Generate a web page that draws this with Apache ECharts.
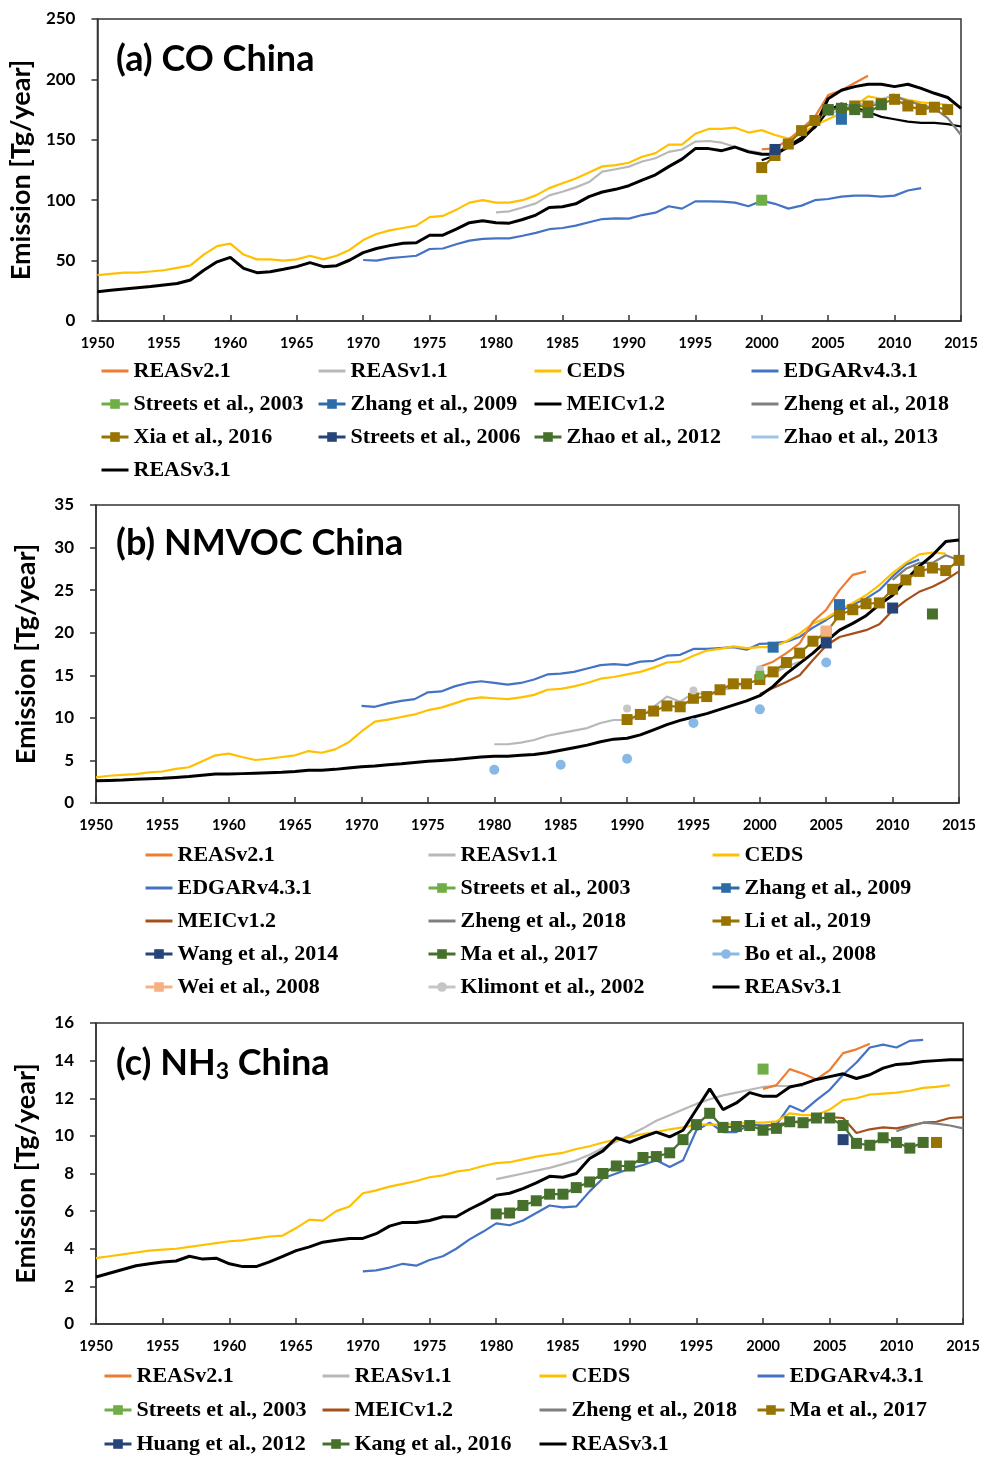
<!DOCTYPE html>
<html>
<head>
<meta charset="utf-8">
<script src="https://cdn.jsdelivr.net/npm/echarts@6/dist/echarts.min.js"></script>
<style>
  html, body { margin: 0; padding: 0; background: #ffffff; }
  #chart { width: 983px; height: 1457px; }
</style>
</head>
<body>
<div id="chart"></div>
<script>
// ---------------- (a) CO China, Tg/year ----------------
const coCEDS = [38, 39, 40, 40, 41, 42, 44, 46, 55, 62,
  64, 55, 51, 51, 50, 51, 54, 51, 54, 59,
  67, 72, 75, 77, 79, 86, 87, 92, 98, 100,
  98, 98, 100, 104, 110, 114, 118, 123, 128, 129,
  131, 136, 139, 146, 146, 155, 159, 159, 160, 156,
  158, 154, 151, 155, 162, 167, 172, 178, 186, 184,
  186, 183, 181, 180, 179];                                  // 1950-2014
const coREAS31 = [24.3, 25.5, 26.5, 27.5, 28.5, 29.8, 31, 34, 42, 49,
  52.7, 43.6, 40, 40.8, 42.8, 45, 48.3, 45, 45.8, 50.5,
  56.6, 60, 62.4, 64.3, 64.8, 71, 71, 76, 81.4, 83,
  81.4, 81, 84, 87.7, 94, 94.6, 97, 103, 106.8, 109,
  112, 116.7, 121, 127.8, 134, 142.7, 142.7, 141, 144, 140,
  138, 138, 144, 150, 161, 184, 191, 194, 196, 196,
  194, 196, 192.6, 188.5, 185, 176];                         // 1950-2015
const coEDGAR = [50.5, 50, 52, 53, 54, 59.6, 60, 63.5, 66.5, 68,
  68.4, 68.4, 70.6, 73, 76, 77, 79, 81.7, 84.4, 85,
  84.7, 87.7, 89.7, 95, 93, 99, 99, 98.8, 98, 95,
  99.6, 97, 93, 95.5, 100, 101, 103, 103.8, 103.8, 103,
  103.8, 108, 110];                                          // 1970-2012
const coREAS11 = [90, 90.8, 94, 97.4, 104, 107, 110.6, 115, 123.6, 125.6,
  127.8, 132, 134.7, 140, 142, 148.5, 149, 147.6, 144, 141, 139]; // 1980-2000
const coREAS21 = [142, 143, 150, 159, 169, 187, 191, 197, 203];   // 2000-2008
const coMEIC = [133, 137, 145, 152, 160, 174, 180, 177, 173, 169,
  167, 165, 164, 164, 163, 161];                             // 2000-2015
const coXia = [127, 137, 146.5, 157.6, 166, 174.7, 176, 178, 178, 180,
  183.5, 178, 175, 177, 175];                                // 2000-2014
const coZhao2012 = [175, 176, 175, 172.5, 179];              // 2005-2009
const coZhao2013 = [170, 176, 181, 178, 183, 188];           // 2005-2010
const coZheng = [186, 182, 179, 176, 168, 154];              // 2010-2015
const coStreets2003Years = [2000], coStreets2003 = [100];
const coStreets2006Years = [2001], coStreets2006 = [142];
const coZhang2009Years = [2006], coZhang2009 = [167];

// ---------------- (b) NMVOC China, Tg/year ----------------
const vocCEDS = [3.0, 3.2, 3.3, 3.4, 3.6, 3.7, 4.0, 4.2, 4.9, 5.6,
  5.8, 5.4, 5.05, 5.2, 5.4, 5.6, 6.1, 5.9, 6.3, 7.1,
  8.4, 9.55, 9.8, 10.1, 10.4, 10.9, 11.2, 11.7, 12.2, 12.4,
  12.3, 12.2, 12.4, 12.7, 13.3, 13.4, 13.7, 14.1, 14.6, 14.8,
  15.1, 15.4, 15.9, 16.5, 16.6, 17.3, 17.9, 18.1, 18.4, 18.2,
  18.3, 18.3, 19.0, 19.9, 21.1, 21.7, 22.7, 23.5, 24.4, 25.6,
  27.0, 28.2, 29.2, 29.4, 29.3];                             // 1950-2014
const vocREAS31 = [2.6, 2.65, 2.7, 2.8, 2.85, 2.9, 3.0, 3.1, 3.25, 3.4,
  3.4, 3.45, 3.5, 3.55, 3.6, 3.7, 3.85, 3.85, 3.95, 4.1,
  4.25, 4.35, 4.5, 4.6, 4.75, 4.9, 5.0, 5.1, 5.25, 5.4,
  5.5, 5.5, 5.6, 5.7, 5.9, 6.2, 6.5, 6.8, 7.2, 7.5,
  7.6, 8.0, 8.6, 9.2, 9.7, 10.1, 10.5, 11.0, 11.5, 12.0,
  12.6, 13.7, 15.2, 16.4, 17.6, 19.0, 20.3, 21.1, 22.0, 23.3,
  24.4, 26.2, 27.8, 29.1, 30.7, 30.9];                       // 1950-2015
const vocEDGAR = [11.4, 11.3, 11.7, 12.0, 12.2, 13.0, 13.1, 13.7, 14.1, 14.3,
  14.1, 13.9, 14.1, 14.5, 15.1, 15.2, 15.4, 15.8, 16.2, 16.3,
  16.2, 16.6, 16.7, 17.3, 17.4, 18.1, 18.1, 18.2, 18.3, 18.0,
  18.7, 18.75, 18.95, 19.5, 20.6, 21.5, 22.5, 23.3, 24.0, 25.0,
  26.6, 28.0, 28.6];                                         // 1970-2012
const vocREAS11 = [6.9, 6.9, 7.1, 7.4, 7.9, 8.2, 8.5, 8.8, 9.4, 9.75,
  9.75, 10.1, 11.3, 12.5, 11.9, 12.9, 12.8, 13.2, 13.6, 14.0,
  14.5, 15.2, 16.0, 16.6];                                   // 1980-2003
const vocREAS21 = [16.0, 16.6, 17.6, 18.75, 21.3, 22.7, 25.0, 26.8, 27.2]; // 2000-2008
const vocMEIC = [12.8, 13.5, 14.2, 15.0, 16.8, 18.5, 19.5, 19.9, 20.3, 21.0,
  22.6, 23.8, 24.8, 25.4, 26.2, 27.2];                       // 2000-2015
const vocZheng = [26.2, 27.5, 28.2, 28.2, 29.1, 28.5];       // 2010-2015
const vocLi = [9.8, 10.4, 10.8, 11.4, 11.3, 12.3, 12.5, 13.3, 14.0, 14.0,
  14.5, 15.4, 16.5, 17.6, 19.0, 20.0, 22.1, 22.7, 23.4, 23.5,
  25.1, 26.2, 27.2, 27.6, 27.3, 28.5];                       // 1990-2015
const vocStreets2003Years = [2000], vocStreets2003 = [15.0];
const vocZhang2009Years = [2001, 2006], vocZhang2009 = [18.3, 23.3];
const vocWang2014Years = [2005, 2010], vocWang2014 = [18.8, 22.9];
const vocMa2017Years = [2013], vocMa2017 = [22.2];
const vocBoYears = [1980, 1985, 1990, 1995, 2000, 2005], vocBo = [3.9, 4.5, 5.2, 9.4, 11.0, 16.5];
const vocWeiYears = [2005], vocWei = [20.2];
const vocKlimontYears = [1990, 1995, 2000], vocKlimont = [11.1, 13.2, 15.7];

// ---------------- (c) NH3 China, Tg/year ----------------
const nh3CEDS = [3.5, 3.6, 3.7, 3.8, 3.9, 3.95, 4.0, 4.1, 4.2, 4.3,
  4.4, 4.45, 4.55, 4.65, 4.7, 5.1, 5.55, 5.5, 6.0, 6.25,
  6.95, 7.1, 7.3, 7.45, 7.6, 7.8, 7.9, 8.1, 8.2, 8.4,
  8.55, 8.6, 8.75, 8.9, 9.0, 9.1, 9.3, 9.45, 9.65, 9.8,
  9.95, 10.1, 10.2, 10.35, 10.45, 10.6, 10.6, 10.6, 10.65, 10.7,
  10.7, 10.77, 11.2, 11.1, 11.1, 11.4, 11.9, 12.0, 12.2, 12.25,
  12.3, 12.4, 12.55, 12.6, 12.7];                            // 1950-2014
const nh3REAS31 = [2.5, 2.7, 2.9, 3.1, 3.2, 3.3, 3.35, 3.6, 3.45, 3.5,
  3.2, 3.05, 3.05, 3.3, 3.6, 3.9, 4.1, 4.35, 4.45, 4.55,
  4.55, 4.8, 5.2, 5.4, 5.4, 5.5, 5.7, 5.7, 6.1, 6.45,
  6.85, 6.95, 7.2, 7.5, 7.85, 7.8, 8.0, 8.8, 9.2, 9.9,
  9.65, 9.95, 10.2, 9.95, 10.3, 11.4, 12.5, 11.4, 11.75, 12.3,
  12.1, 12.1, 12.6, 12.75, 13.0, 13.15, 13.3, 13.05, 13.25, 13.6,
  13.8, 13.85, 13.95, 14.0, 14.05, 14.05];                   // 1950-2015
const nh3EDGAR = [2.8, 2.85, 3.0, 3.2, 3.1, 3.4, 3.6, 4.0, 4.5, 4.9,
  5.35, 5.25, 5.5, 5.9, 6.3, 6.2, 6.25, 7.05, 7.75, 8.0,
  8.25, 8.45, 8.7, 8.35, 8.7, 10.3, 10.7, 10.2, 10.2, 10.6,
  10.55, 10.6, 11.6, 11.3, 11.9, 12.45, 13.25, 13.9, 14.7, 14.85,
  14.7, 15.05, 15.1];                                        // 1970-2012
const nh3REAS11 = [7.7, 7.85, 8.0, 8.15, 8.3, 8.5, 8.7, 9.0, 9.35, 9.7,
  10.05, 10.4, 10.8, 11.1, 11.4, 11.7, 11.95, 12.15, 12.3, 12.45,
  12.6, 12.65, 12.65, 12.65];                                // 1980-2003
const nh3REAS21 = [12.5, 12.7, 13.55, 13.3, 13.0, 13.5, 14.4, 14.6, 14.9]; // 2000-2008
const nh3MEIC = [10.5, 10.6, 10.7, 10.8, 10.9, 11.0, 10.95, 10.15, 10.35, 10.45,
  10.4, 10.55, 10.7, 10.75, 10.95, 11.0];                    // 2000-2015
const nh3Zheng = [10.25, 10.5, 10.7, 10.65, 10.55, 10.4];    // 2010-2015
const nh3Kang = [5.85, 5.9, 6.3, 6.55, 6.9, 6.9, 7.25, 7.55, 8.0, 8.4,
  8.4, 8.85, 8.9, 9.1, 9.8, 10.6, 11.2, 10.45, 10.5, 10.55,
  10.3, 10.4, 10.75, 10.7, 10.95, 10.95, 10.55, 9.6, 9.5, 9.9,
  9.65, 9.35, 9.65];                                         // 1980-2012
const nh3Streets2003Years = [2000], nh3Streets2003 = [13.55];
const nh3HuangYears = [2006], nh3Huang = [9.8];
const nh3MaYears = [2013], nh3Ma = [9.65];

// ---------------- axes ----------------
const yearTicks = { min: 1950, max: 2015, step: 5 };
const coTicks = { max: 250, step: 50 };
const vocTicks = { max: 35, step: 5 };
const nh3Ticks = { max: 16, step: 2 };

// legend entries, row by row
const coLegendRows = [
  ['REASv2.1', 'REASv1.1', 'CEDS', 'EDGARv4.3.1'],
  ['Streets et al., 2003', 'Zhang et al., 2009', 'MEICv1.2', 'Zheng et al., 2018'],
  ['Xia et al., 2016', 'Streets et al., 2006', 'Zhao et al., 2012', 'Zhao et al., 2013'],
  ['REASv3.1']
];
const vocLegendRows = [
  ['REASv2.1', 'REASv1.1', 'CEDS'],
  ['EDGARv4.3.1', 'Streets et al., 2003', 'Zhang et al., 2009'],
  ['MEICv1.2', 'Zheng et al., 2018', 'Li et al., 2019'],
  ['Wang et al., 2014', 'Ma et al., 2017', 'Bo et al., 2008'],
  ['Wei et al., 2008', 'Klimont et al., 2002', 'REASv3.1']
];
const nh3LegendRows = [
  ['REASv2.1', 'REASv1.1', 'CEDS', 'EDGARv4.3.1'],
  ['Streets et al., 2003', 'MEICv1.2', 'Zheng et al., 2018', 'Ma et al., 2017'],
  ['Huang et al., 2012', 'Kang et al., 2016', 'REASv3.1']
];

// ---------------- helpers ----------------
const yearly = (start, vals) => vals.map((v, i) => [start + i, v]);
const paired = (years, vals) => years.map((y, i) => [y, vals[i]]);

const COL = {
  reas21: '#ED7D31', reas11: '#B8B8B8', ceds: '#FFC000', edgar: '#4472C4',
  streets03: '#70AD47', zhang: '#2E6CA8', navy: '#264478', olive: '#997300',
  dgreen: '#47702D', zhao13: '#9DC3E6', brown: '#A5501A', zheng: '#7F7F7F',
  bo: '#88B9E6', wei: '#F4B183', klimont: '#C6C6C6', black: '#000000'
};
const PANELS = ['a', 'b', 'c'];

function line(p, name, data, color, width) {
  return {
    type: 'line', name: PANELS[p] + '|' + name, xAxisIndex: p, yAxisIndex: p,
    data, symbol: 'none', lineStyle: { color, width: width || 2.2 },
    itemStyle: { color }, animation: false, silent: true
  };
}
function marks(p, name, data, color, symbol, size, joined) {
  return {
    type: 'line', name: PANELS[p] + '|' + name, xAxisIndex: p, yAxisIndex: p,
    data, symbol, symbolSize: size, showSymbol: true,
    lineStyle: { color, width: joined ? 2.2 : 0 },
    itemStyle: { color }, animation: false, silent: true
  };
}

const series = [
  // (a)
  line(0, 'REASv1.1', yearly(1980, coREAS11), COL.reas11),
  line(0, 'EDGARv4.3.1', yearly(1970, coEDGAR), COL.edgar),
  line(0, 'CEDS', yearly(1950, coCEDS), COL.ceds),
  line(0, 'MEICv1.2', yearly(2000, coMEIC), COL.black, 2.2),
  line(0, 'Zheng et al., 2018', yearly(2010, coZheng), COL.zheng),
  line(0, 'REASv2.1', yearly(2000, coREAS21), COL.reas21),
  marks(0, 'Xia et al., 2016', yearly(2000, coXia), COL.olive, 'rect', 11, true),
  marks(0, 'Zhao et al., 2012', yearly(2005, coZhao2012), COL.dgreen, 'rect', 11, true),
  line(0, 'Zhao et al., 2013', yearly(2005, coZhao2013), COL.zhao13),
  marks(0, 'Streets et al., 2003', paired(coStreets2003Years, coStreets2003), COL.streets03, 'rect', 11),
  marks(0, 'Zhang et al., 2009', paired(coZhang2009Years, coZhang2009), COL.zhang, 'rect', 11),
  marks(0, 'Streets et al., 2006', paired(coStreets2006Years, coStreets2006), COL.navy, 'rect', 11),
  line(0, 'REASv3.1', yearly(1950, coREAS31), COL.black, 3),
  // (b)
  line(1, 'REASv1.1', yearly(1980, vocREAS11), COL.reas11),
  line(1, 'EDGARv4.3.1', yearly(1970, vocEDGAR), COL.edgar),
  line(1, 'CEDS', yearly(1950, vocCEDS), COL.ceds),
  line(1, 'MEICv1.2', yearly(2000, vocMEIC), COL.brown),
  line(1, 'Zheng et al., 2018', yearly(2010, vocZheng), COL.zheng),
  line(1, 'REASv2.1', yearly(2000, vocREAS21), COL.reas21),
  line(1, 'REASv3.1', yearly(1950, vocREAS31), COL.black, 3),
  marks(1, 'Li et al., 2019', yearly(1990, vocLi), COL.olive, 'rect', 11, true),
  marks(1, 'Klimont et al., 2002', paired(vocKlimontYears, vocKlimont), COL.klimont, 'circle', 8),
  marks(1, 'Streets et al., 2003', paired(vocStreets2003Years, vocStreets2003), COL.streets03, 'rect', 9),
  marks(1, 'Bo et al., 2008', paired(vocBoYears, vocBo), COL.bo, 'circle', 10),
  marks(1, 'Zhang et al., 2009', paired(vocZhang2009Years, vocZhang2009), COL.zhang, 'rect', 11),
  marks(1, 'Wei et al., 2008', paired(vocWeiYears, vocWei), COL.wei, 'rect', 11),
  marks(1, 'Wang et al., 2014', paired(vocWang2014Years, vocWang2014), COL.navy, 'rect', 11),
  marks(1, 'Ma et al., 2017', paired(vocMa2017Years, vocMa2017), COL.dgreen, 'rect', 11),
  // (c)
  line(2, 'REASv1.1', yearly(1980, nh3REAS11), COL.reas11),
  line(2, 'EDGARv4.3.1', yearly(1970, nh3EDGAR), COL.edgar),
  line(2, 'CEDS', yearly(1950, nh3CEDS), COL.ceds),
  line(2, 'MEICv1.2', yearly(2000, nh3MEIC), COL.brown),
  line(2, 'Zheng et al., 2018', yearly(2010, nh3Zheng), COL.zheng),
  line(2, 'REASv2.1', yearly(2000, nh3REAS21), COL.reas21),
  line(2, 'REASv3.1', yearly(1950, nh3REAS31), COL.black, 3),
  marks(2, 'Kang et al., 2016', yearly(1980, nh3Kang), COL.dgreen, 'rect', 11, true),
  marks(2, 'Streets et al., 2003', paired(nh3Streets2003Years, nh3Streets2003), COL.streets03, 'rect', 11),
  marks(2, 'Huang et al., 2012', paired(nh3HuangYears, nh3Huang), COL.navy, 'rect', 11),
  marks(2, 'Ma et al., 2017', paired(nh3MaYears, nh3Ma), COL.olive, 'rect', 11)
];

// ---------------- layout ----------------
const AXIS_COLOR = '#333333';
const SANS = 'Lato';
const grids = [
  { left: 95, top: 19, width: 866, height: 302 },
  { left: 96, top: 505, width: 863, height: 298 },
  { left: 96, top: 1023, width: 868, height: 301 }
].map(g => Object.assign(g, { show: true, borderColor: AXIS_COLOR, borderWidth: 1.5, backgroundColor: 'transparent' }));

const xAxes = [0, 1, 2].map(i => ({
  type: 'value', gridIndex: i, min: yearTicks.min, max: yearTicks.max, interval: yearTicks.step,
  axisLine: { show: true, onZero: false, lineStyle: { color: AXIS_COLOR, width: 1.5 } },
  axisTick: { show: true, inside: true, length: 6, lineStyle: { color: AXIS_COLOR, width: 1.5 } },
  axisLabel: { fontFamily: SANS, fontWeight: 'bold', fontSize: 14.5, color: '#000', margin: 15, formatter: v => String(v) },
  splitLine: { show: false }
}));

const yAxes = [coTicks, vocTicks, nh3Ticks].map((t, i) => ({
  type: 'value', gridIndex: i, min: 0, max: t.max, interval: t.step,
  name: 'Emission [Tg/year]', nameLocation: 'middle', nameGap: i === 0 ? 60 : 56,
  nameTextStyle: { fontFamily: SANS, fontWeight: 'bold', fontSize: 27, color: '#000' },
  axisLine: { show: true, lineStyle: { color: AXIS_COLOR, width: 1.5 } },
  axisTick: { show: true, inside: false, length: 6, lineStyle: { color: AXIS_COLOR, width: 1.5 } },
  axisLabel: { fontFamily: SANS, fontWeight: 'bold', fontSize: 17, color: '#000', margin: 22 },
  splitLine: { show: false }
}));

const titleStyle = { fontFamily: SANS, fontWeight: 'bold', fontSize: 36, color: '#000' };
const titles = [
  { text: '(a) CO China', left: 111, top: 36, textStyle: titleStyle },
  { text: '(b) NMVOC China', left: 111, top: 520, textStyle: titleStyle },
  {
    text: '(c) NH{sub|3} China', left: 111, top: 1038,
    textStyle: Object.assign({}, titleStyle, {
      rich: { sub: { fontFamily: SANS, fontWeight: 'bold', fontSize: 23, color: '#000', padding: [17, 0, 0, 0] } }
    })
  }
];

// series drawn without markers get a plain line in their legend icon
const lineOnly = new Set(series.filter(s => s.symbol === 'none').map(s => s.name));

const legendText = { fontFamily: 'Liberation Serif', fontWeight: 'bold', fontSize: 22, color: '#000' };
function legendBlock(p, rows, colLeft, rowMid) {
  const out = [];
  rows.forEach((row, r) => row.forEach((name, c) => {
    const key = PANELS[p] + '|' + name;
    out.push({
      data: [key], left: colLeft[c], top: rowMid[r] - 11,
      orient: 'horizontal', padding: 0, itemGap: 0, itemWidth: 27, itemHeight: 12,
      selectedMode: false, textStyle: legendText,
      lineStyle: { width: 3 },
      itemStyle: lineOnly.has(key) ? { opacity: 0 } : {},
      formatter: n => n.split('|')[1]
    });
  }));
  return out;
}
const legends = [].concat(
  legendBlock(0, coLegendRows, [100, 317, 533, 750], [371, 404, 437, 470]),
  legendBlock(1, vocLegendRows, [144, 427, 711], [855, 888, 921, 954, 987]),
  legendBlock(2, nh3LegendRows, [103, 321, 538, 756], [1376, 1410, 1444])
);

const chart = echarts.init(document.getElementById('chart'), null, { renderer: 'canvas' });
chart.setOption({
  backgroundColor: '#ffffff',
  animation: false,
  title: titles,
  grid: grids,
  xAxis: xAxes,
  yAxis: yAxes,
  legend: legends,
  series: series
});
</script>
</body>
</html>
